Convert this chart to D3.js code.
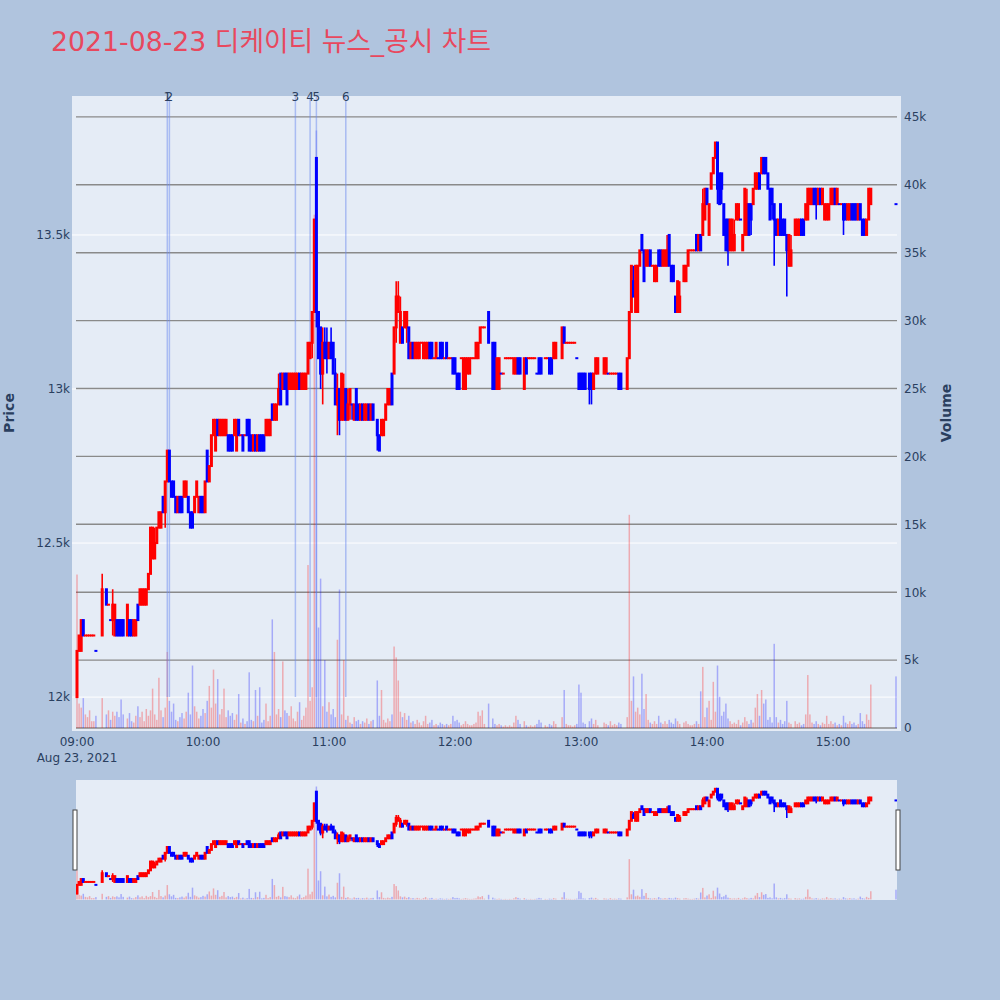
<!DOCTYPE html>
<html>
<head>
<meta charset="utf-8">
<script src="https://cdn.jsdelivr.net/npm/d3@7"></script>
<style>
  body { margin: 0; background: #b0c4de; }
  text { font-family: "DejaVu Sans", Verdana, sans-serif; }
</style>
</head>
<body>
<svg id="chart" width="1000" height="1000"></svg>
<script>
// prices are kept in 50-won ticks above 12,000; volume in thousands of shares
const base = 12000
const tickSize = 50

// minutes after 09:00 that have a candle
const minutes = [
  0,1,2,3,4,5,6,7,8,9,
  12,14,15,16,17,18,19,20,21,22,
  24,25,26,27,28,29,30,31,32,33,
  34,35,36,37,38,39,40,41,42,43,
  44,45,46,47,48,49,50,51,52,53,
  54,55,56,57,58,59,60,61,62,63,
  64,65,66,67,68,69,70,71,72,73,
  74,75,76,77,78,79,80,81,82,83,
  84,85,86,87,88,89,90,91,92,93,
  94,95,96,97,98,99,100,101,102,103,
  104,105,106,107,108,109,110,111,112,113,
  114,115,116,117,118,119,120,121,122,123,
  124,125,126,127,128,129,130,131,132,133,
  134,135,136,137,138,139,140,141,143,144,
  145,146,147,148,149,150,151,152,153,154,
  155,156,157,158,159,160,161,162,163,164,
  165,166,167,168,169,170,171,172,173,174,
  175,176,177,178,179,180,181,182,183,184,
  185,186,187,188,189,190,191,192,193,194,
  196,198,199,200,201,202,203,204,205,206,
  207,208,209,210,211,213,214,215,216,217,
  218,219,220,221,223,224,225,226,227,228,
  231,232,233,234,235,236,237,238,239,240,
  241,242,244,245,246,247,248,251,252,253,
  254,255,256,257,258,259,262,263,264,265,
  266,267,268,269,270,271,272,273,274,275,
  276,277,278,279,280,281,282,283,284,285,
  286,287,289,290,291,292,293,294,295,296,
  297,298,299,300,301,302,303,304,305,306,
  307,308,309,310,311,312,313,314,315,316,
  317,318,319,320,321,322,323,324,325,326,
  327,328,329,330,331,332,333,334,335,336,
  337,338,339,340,342,343,344,345,346,347,
  348,349,350,351,352,353,354,355,356,357,
  358,359,360,361,362,363,364,365,366,367,
  368,369,370,371,372,373,374,375,376,377,
  378,390
]

const opens = [
  0,3,3,5,4,4,4,4,4,3,
  4,7,6,5,5,4,5,5,5,5,
  4,5,5,4,4,6,6,6,6,6,
  7,8,9,9,10,11,11,13,12,14,
  16,14,14,13,12,13,13,13,13,13,
  12,12,12,13,12,13,13,12,16,14,
  15,17,16,18,17,17,17,17,17,17,
  17,17,16,18,17,17,17,18,18,17,
  16,17,16,17,17,17,17,17,17,19,
  18,18,19,21,20,21,21,20,20,20,
  20,20,21,20,20,20,21,22,23,25,
  35,25,24,21,23,23,22,23,23,21,
  19,20,18,18,20,18,19,19,18,20,
  19,18,19,18,18,19,18,19,18,17,
  17,17,18,19,19,21,21,24,25,23,
  24,24,24,24,22,23,22,22,22,23,
  22,22,22,23,23,22,22,22,23,23,
  22,23,22,22,22,22,21,21,22,20,
  20,21,21,22,22,22,22,23,24,24,
  25,23,23,20,20,21,21,22,22,22,
  22,21,21,22,22,20,22,22,22,22,
  22,21,22,22,22,22,22,22,22,22,
  22,24,23,23,23,23,23,22,21,21,
  21,21,21,21,20,21,21,21,21,21,
  21,21,21,21,21,21,20,22,25,27,
  25,25,28,30,29,28,28,29,28,27,
  27,29,29,28,28,28,30,28,28,26,
  25,25,27,27,28,29,29,29,30,29,
  30,30,31,33,30,33,34,35,36,34,
  34,32,31,31,29,29,29,31,31,31,
  29,30,30,32,32,32,33,33,34,34,
  35,35,34,33,33,32,31,30,32,31,
  31,30,28,28,30,30,30,31,31,31,
  31,32,32,33,33,32,33,32,31,31,
  31,32,32,33,32,32,32,32,32,31,
  31,32,32,32,31,32,31,31,30,31,
  32,32
]

const highs = [
  3,4,5,5,4,4,4,4,4,3,
  8,7,6,5,7,6,5,5,5,5,
  6,5,5,5,5,6,7,7,7,7,
  8,11,11,11,11,12,12,13,14,16,
  16,14,14,13,13,13,13,14,14,13,
  12,12,13,14,13,13,13,14,16,15,
  17,18,18,18,18,18,18,18,17,17,
  17,18,18,18,17,17,17,18,18,17,
  17,17,17,17,17,17,18,18,18,19,
  19,19,21,21,21,21,21,21,21,21,
  21,21,21,21,21,21,23,23,25,31,
  35,25,24,24,24,24,23,24,23,22,
  21,20,21,21,20,20,20,19,19,20,
  19,19,19,19,19,19,19,19,18,17,
  18,18,19,20,20,21,24,27,27,26,
  24,25,25,24,23,23,23,23,23,23,
  23,23,23,23,23,22,23,22,23,23,
  22,23,22,22,22,22,21,21,22,22,
  22,22,22,22,22,23,23,24,24,24,
  25,23,23,22,22,21,21,22,22,22,
  22,22,22,22,22,22,22,22,22,22,
  22,21,22,22,22,22,22,22,23,23,
  24,24,23,23,23,23,23,22,21,21,
  21,21,21,21,21,22,22,22,22,21,
  21,21,21,21,21,21,22,25,28,28,
  28,28,29,30,29,29,29,29,28,28,
  28,29,29,29,29,30,30,28,28,26,
  27,27,28,28,29,29,29,29,30,30,
  30,33,33,33,32,34,35,36,36,34,
  34,32,31,31,31,31,31,32,32,31,
  30,33,33,32,32,33,34,34,34,35,
  35,35,34,33,33,32,31,31,32,31,
  31,30,30,30,31,31,31,31,31,32,
  33,33,33,33,33,33,33,33,32,32,
  32,33,33,33,33,32,32,32,32,32,
  32,32,32,32,32,32,31,31,31,33,
  33,32
]

const lows = [
  0,3,3,4,4,4,4,4,4,3,
  4,6,6,5,4,4,4,4,4,4,
  4,4,4,4,4,5,6,6,6,6,
  7,8,9,9,10,11,11,12,11,14,
  14,13,13,12,12,12,12,13,13,12,
  11,11,12,13,12,12,12,12,14,14,
  15,17,16,17,17,17,17,17,16,16,
  16,17,16,17,17,16,17,17,16,16,
  16,16,16,16,16,16,17,17,17,18,
  18,18,19,19,20,20,19,20,20,20,
  20,20,20,20,20,20,21,22,22,25,
  24,22,20,19,22,21,22,22,21,19,
  17,17,18,18,18,18,18,18,18,18,
  18,18,18,18,18,18,18,18,16,16,
  17,17,18,19,19,19,21,23,25,23,
  23,24,23,22,22,22,22,22,22,23,
  22,22,22,22,22,22,22,22,22,22,
  22,22,22,22,21,21,20,20,22,20,
  20,21,21,22,22,22,22,23,24,24,
  23,20,20,20,20,21,21,22,22,22,
  22,21,21,21,21,20,21,22,22,22,
  22,21,21,21,22,22,21,21,22,22,
  22,23,23,23,23,23,23,22,20,20,
  20,20,19,19,20,21,21,21,21,21,
  21,21,21,21,20,20,20,22,25,26,
  25,25,28,29,27,28,28,28,28,27,
  27,28,28,28,28,28,28,27,27,25,
  25,25,27,27,28,29,29,29,29,29,
  29,30,31,32,30,33,34,35,32,32,
  32,30,29,28,29,29,29,31,31,31,
  29,30,30,30,30,32,33,33,33,34,
  34,34,33,31,31,28,30,30,30,30,
  30,26,28,28,30,30,30,30,30,31,
  31,32,32,32,31,32,32,32,31,31,
  31,32,32,32,32,32,32,30,31,31,
  31,31,31,31,31,31,30,30,30,31,
  32,32
]

const closes = [
  3,4,5,4,4,4,4,4,4,3,
  7,6,6,5,6,6,4,4,4,4,
  6,4,4,5,5,5,7,7,7,7,
  8,11,11,10,11,12,12,12,14,16,
  14,13,13,12,13,12,12,14,14,12,
  11,11,13,14,13,12,12,14,14,15,
  17,18,18,17,18,18,18,18,16,16,
  16,18,18,17,17,16,17,17,16,16,
  17,16,17,16,16,16,18,18,18,18,
  19,19,20,19,21,20,19,21,21,21,
  21,21,20,21,21,21,23,23,25,31,
  25,22,21,23,22,22,23,22,21,19,
  20,18,21,20,18,19,20,19,19,18,
  18,19,18,19,19,18,19,18,17,16,
  18,18,19,20,20,19,24,26,26,25,
  23,25,25,22,23,22,23,23,23,23,
  23,23,23,22,22,22,23,22,22,22,
  22,22,22,22,21,21,20,20,22,22,
  22,22,22,22,22,23,23,24,24,24,
  23,20,20,22,22,21,21,22,22,22,
  22,22,22,21,21,22,21,22,22,22,
  22,21,21,21,22,22,21,21,23,23,
  24,23,23,23,23,23,23,22,20,20,
  20,20,20,20,21,22,22,22,22,21,
  21,21,21,21,20,20,22,25,28,26,
  28,28,29,29,27,29,29,28,28,28,
  28,28,28,29,29,29,28,27,27,25,
  27,26,28,28,29,29,29,29,29,30,
  29,32,33,32,32,34,35,36,33,32,
  33,30,29,29,31,31,30,32,32,31,
  30,33,32,30,31,33,34,34,33,35,
  34,34,33,31,32,31,30,31,30,30,
  30,29,30,29,31,31,31,30,30,32,
  33,33,33,32,32,33,32,33,32,32,
  32,33,33,32,33,32,32,31,31,32,
  32,31,31,31,32,31,30,30,31,33,
  33,32
]

const volumesK = [
  11.3,1.8,1.5,2.2,1.0,0.8,1.3,0.5,0.5,0.9,
  2.2,1.0,1.3,0.6,1.2,0.9,1.2,0.8,2.1,1.0,
  0.7,1.1,0.5,0.4,0.9,1.6,0.8,1.2,0.5,1.4,
  0.9,1.3,2.9,1.0,0.6,3.7,1.3,0.8,1.5,5.6,
  2.0,1.2,1.8,0.6,0.5,0.8,1.1,0.7,1.2,2.6,
  1.0,4.6,1.6,1.2,0.7,0.9,1.4,1.1,2.0,3.1,
  1.5,4.3,1.8,3.6,1.0,1.4,2.9,0.8,1.3,0.9,
  1.1,0.6,1.0,2.5,0.4,0.7,0.3,0.5,4.1,0.6,
  0.5,2.8,0.9,3.0,0.4,0.6,1.8,0.5,0.9,8.0,
  5.6,1.0,1.4,0.8,4.9,1.3,1.1,0.9,1.6,0.7,
  0.5,1.2,1.9,0.6,0.9,1.5,12.0,2.0,3.0,37.8,
  44.0,7.4,11.0,1.6,5.0,1.2,1.9,1.0,1.4,0.8,
  6.5,10.2,1.0,5.0,0.6,0.9,0.4,0.3,0.8,0.5,
  0.6,0.3,0.5,0.4,0.7,0.3,0.5,0.6,3.5,0.9,
  2.8,0.6,0.4,0.7,0.5,1.0,6.0,5.2,3.5,1.2,
  0.8,1.1,0.6,0.9,0.4,0.5,0.3,0.6,0.4,0.2,
  0.5,0.9,0.3,0.4,0.6,0.2,0.3,0.2,0.4,0.3,
  0.2,0.3,0.2,0.3,0.9,0.5,0.6,0.4,0.2,0.3,
  0.5,0.3,0.2,0.2,0.3,0.4,1.2,0.9,1.3,0.3,
  1.8,0.7,0.3,0.2,0.3,0.2,0.1,0.2,0.1,0.2,
  0.1,0.4,0.9,0.6,0.3,0.5,0.2,0.1,0.2,0.1,
  0.2,0.3,0.6,0.4,0.2,0.1,0.3,0.2,0.5,0.3,
  0.8,2.8,0.3,0.2,0.2,0.1,0.2,0.3,3.2,2.6,
  0.4,0.3,0.5,0.7,0.3,0.6,0.2,0.4,0.3,0.2,
  0.5,0.2,0.3,0.2,0.4,0.3,0.8,15.7,2.0,3.8,
  1.2,1.5,1.0,4.0,1.4,2.5,0.6,0.4,0.3,0.5,
  0.3,0.9,0.4,0.3,0.5,0.3,0.6,0.4,0.3,0.7,
  0.5,0.3,0.4,0.5,0.3,0.2,0.2,0.3,0.5,0.3,
  2.7,4.5,0.8,1.5,2.0,0.6,3.4,1.2,4.6,2.3,
  0.9,1.2,1.8,0.7,0.5,0.3,0.4,0.3,0.6,0.2,
  0.4,0.8,0.5,0.3,0.6,0.4,1.5,2.5,0.9,2.8,
  1.8,2.1,0.6,0.8,0.4,6.2,0.8,0.4,0.6,0.3,
  0.5,2.0,0.4,0.3,0.5,0.3,0.4,0.2,0.3,1.0,
  3.9,1.0,0.4,0.3,0.5,0.3,0.2,0.4,0.3,0.9,
  0.3,0.5,0.3,0.4,0.2,0.3,0.2,0.9,0.4,0.3,
  0.5,0.3,0.4,0.2,0.3,1.1,0.5,0.3,1.0,0.6,
  3.2,3.8
]

const newsTimes = ['09:43', '09:44', '10:44', '10:51', '10:54', '11:08']
const newsLabels = ['1', '2', '3', '4', '5', '6']
const priceTicks = [12000, 12500, 13000, 13500]
const volumeTicks = [0, 5000, 10000, 15000, 20000, 25000, 30000, 35000, 40000, 45000]
const titleText = '2021-08-23 디케이티 뉴스_공시 차트'

const day = new Date(2021, 7, 23, 9, 0)
function atMinute(m) { return new Date(day.getTime() + m * 60000) }
function atClock(s) {
  const [h, mm] = s.split(':').map(Number)
  return new Date(2021, 7, 23, h, mm)
}

const bars = minutes.map((m, i) => ({
  time: atMinute(m),
  o: base + tickSize * opens[i],
  h: base + tickSize * highs[i],
  l: base + tickSize * lows[i],
  c: base + tickSize * closes[i],
  v: volumesK[i] * 1000
}))
// plotly style: a flat candle takes its colour from the previous close
bars.forEach((d, i) => {
  if (d.c !== d.o) d.up = d.c > d.o
  else d.up = i === 0 ? true : d.c >= bars[i - 1].c
})

const upColor = '#ff0000'
const downColor = '#0000ff'
const svg = d3.select('#chart')

const plot = {left: 72, right: 901, top: 96, bottom: 731}
const slider = {left: 76, right: 897, top: 780, bottom: 900}

const x = d3.scaleTime()
  .domain([atMinute(-2.38), atMinute(392.38)])
  .range([plot.left, plot.right])
const y = d3.scaleLinear().domain([11890, 13951]).range([plot.bottom, plot.top])
const yVol = d3.scaleLinear().domain([-221, 46540]).range([plot.bottom, plot.top])
const ySl = d3.scaleLinear().domain([11890, 13951]).range([slider.bottom, slider.top])
const yVolSl = d3.scaleLinear().domain([-221, 46540]).range([slider.bottom, slider.top])

svg.append('rect').attr('width', 1000).attr('height', 1000).attr('fill', '#b0c4de')

svg.append('text')
  .attr('x', 51).attr('y', 51)
  .attr('font-size', 27)
  .attr('fill', '#e8485e')
  .attr('textLength', 440)
  .attr('lengthAdjust', 'spacingAndGlyphs')
  .style('font-family', '"DejaVu Sans", "Noto Sans CJK KR", sans-serif')
  .text(titleText)

svg.append('rect')
  .attr('x', plot.left).attr('y', plot.top)
  .attr('width', plot.right - plot.left).attr('height', plot.bottom - plot.top)
  .attr('fill', '#e5ecf6')

svg.append('defs').append('clipPath').attr('id', 'plot-clip')
  .append('rect')
  .attr('x', plot.left).attr('y', plot.top)
  .attr('width', plot.right - plot.left).attr('height', plot.bottom - plot.top)

// price grid (white) and volume grid (grey)
svg.append('g').selectAll('line')
  .data(priceTicks)
  .join('line')
  .attr('x1', plot.left).attr('x2', 897)
  .attr('y1', (d) => y(d)).attr('y2', (d) => y(d))
  .attr('stroke', '#ffffff').attr('stroke-width', 1)

svg.append('g').selectAll('line')
  .data(volumeTicks)
  .join('line')
  .attr('x1', 76).attr('x2', 897)
  .attr('y1', (d) => yVol(d)).attr('y2', (d) => yVol(d))
  .attr('stroke', '#8a8a8a').attr('stroke-width', 1.4)

const main = svg.append('g').attr('clip-path', 'url(#plot-clip)')

main.append('g').selectAll('rect')
  .data(bars)
  .join('rect')
  .attr('x', (d) => x(d.time) - 0.75)
  .attr('width', 1.5)
  .attr('y', (d) => yVol(d.v))
  .attr('height', (d) => yVol(0) - yVol(d.v))
  .attr('fill', (d) => d.up ? upColor : downColor)
  .attr('fill-opacity', 0.28)

main.append('g').selectAll('line')
  .data(newsTimes)
  .join('line')
  .attr('x1', (d) => x(atClock(d))).attr('x2', (d) => x(atClock(d)))
  .attr('y1', y(12000)).attr('y2', plot.top)
  .attr('stroke', 'rgb(110,140,240)').attr('stroke-opacity', 0.5)
  .attr('stroke-width', 1.5)

function drawCandles(g, yScale, bodyW, wickW) {
  const c = g.append('g').selectAll('g')
    .data(bars)
    .join('g')
    .attr('fill', (d) => d.up ? upColor : downColor)
    .attr('stroke', (d) => d.up ? upColor : downColor)
  c.append('line')
    .attr('x1', (d) => x(d.time)).attr('x2', (d) => x(d.time))
    .attr('y1', (d) => yScale(d.h)).attr('y2', (d) => yScale(d.l))
    .attr('stroke-width', wickW)
  c.append('rect')
    .attr('stroke', 'none')
    .attr('x', (d) => x(d.time) - bodyW / 2)
    .attr('width', bodyW)
    .attr('y', (d) => yScale(Math.max(d.o, d.c)) - 1)
    .attr('height', (d) => Math.abs(yScale(d.o) - yScale(d.c)) + 2)
}
drawCandles(main, y, 3, 1.6)

svg.append('g').selectAll('text')
  .data(newsTimes)
  .join('text')
  .attr('x', (d) => x(atClock(d)))
  .attr('y', 101)
  .attr('text-anchor', 'middle')
  .attr('font-size', 12)
  .attr('fill', '#2a3f5f')
  .text((d, i) => newsLabels[i])

// axes
const axisColor = '#2a3f5f'
svg.append('g').selectAll('text')
  .data(priceTicks)
  .join('text')
  .attr('x', 70).attr('y', (d) => y(d) + 4.3)
  .attr('text-anchor', 'end')
  .attr('font-size', 12).attr('fill', axisColor)
  .text((d) => d3.format('~s')(d))

svg.append('g').selectAll('text')
  .data(volumeTicks)
  .join('text')
  .attr('x', 904).attr('y', (d) => yVol(d) + 4.3)
  .attr('font-size', 12).attr('fill', axisColor)
  .text((d) => d3.format('~s')(d))

const hourTicks = x.ticks(d3.timeHour.every(1))
svg.append('g').selectAll('text')
  .data(hourTicks)
  .join('text')
  .attr('x', (d) => x(d)).attr('y', 746)
  .attr('text-anchor', 'middle')
  .attr('font-size', 12).attr('fill', axisColor)
  .text((d) => d3.timeFormat('%H:%M')(d))

svg.append('text')
  .attr('x', x(day)).attr('y', 762)
  .attr('text-anchor', 'middle')
  .attr('font-size', 12).attr('fill', axisColor)
  .text(d3.timeFormat('%b %d, %Y')(day))

svg.append('text')
  .attr('transform', 'translate(14,413) rotate(-90)')
  .attr('text-anchor', 'middle')
  .attr('font-size', 14).attr('font-weight', 'bold').attr('fill', axisColor)
  .text('Price')

svg.append('text')
  .attr('transform', 'translate(951,413) rotate(-90)')
  .attr('text-anchor', 'middle')
  .attr('font-size', 14).attr('font-weight', 'bold').attr('fill', axisColor)
  .text('Volume')

// range slider
svg.append('rect')
  .attr('x', slider.left).attr('y', slider.top)
  .attr('width', slider.right - slider.left).attr('height', slider.bottom - slider.top)
  .attr('fill', '#e5ecf6')

svg.select('defs').append('clipPath').attr('id', 'slider-clip')
  .append('rect')
  .attr('x', slider.left).attr('y', slider.top)
  .attr('width', slider.right - slider.left).attr('height', slider.bottom - slider.top)

const mini = svg.append('g').attr('clip-path', 'url(#slider-clip)')
mini.append('g').selectAll('rect')
  .data(bars)
  .join('rect')
  .attr('x', (d) => x(d.time) - 0.75)
  .attr('width', 1.5)
  .attr('y', (d) => yVolSl(d.v))
  .attr('height', (d) => yVolSl(0) - yVolSl(d.v))
  .attr('fill', (d) => d.up ? upColor : downColor)
  .attr('fill-opacity', 0.28)
drawCandles(mini, ySl, 3, 1.6)

svg.append('g').selectAll('rect')
  .data([slider.left - 3, slider.right - 1])
  .join('rect')
  .attr('x', (d) => d).attr('y', 810)
  .attr('width', 4).attr('height', 60)
  .attr('fill', '#ffffff').attr('stroke', '#444444').attr('stroke-width', 1)
</script>
</body>
</html>
